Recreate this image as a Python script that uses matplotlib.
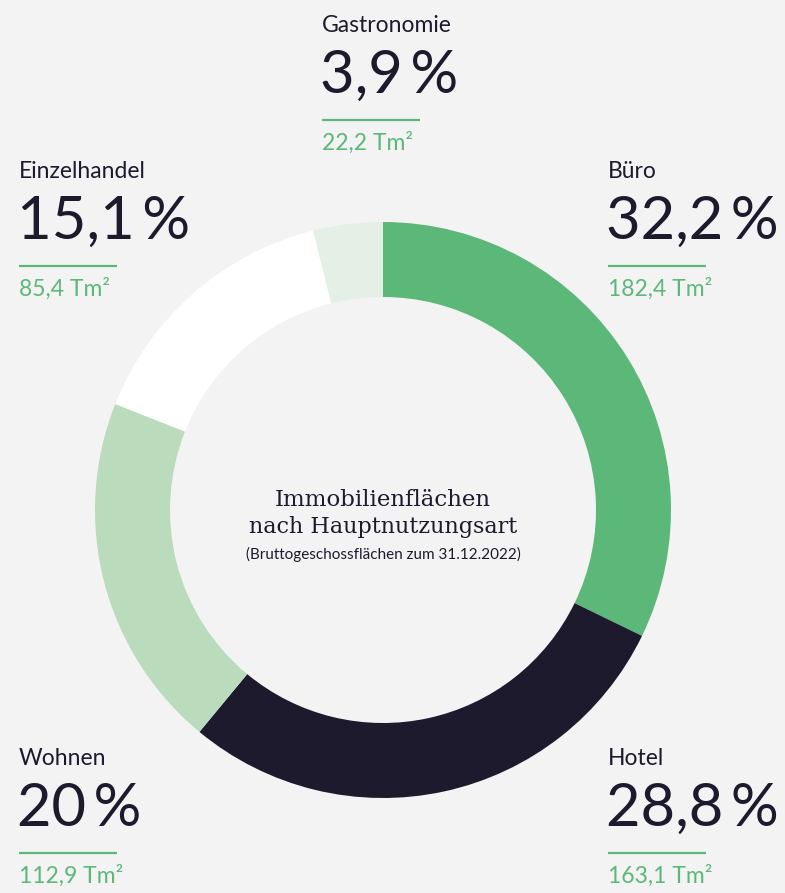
import matplotlib.pyplot as plt

# Immobilienflächen nach Hauptnutzungsart, Anteile im Uhrzeigersinn ab 12 Uhr
categories = ["Büro", "Hotel", "Wohnen", "Einzelhandel", "Gastronomie"]
shares = [32.2, 28.8, 20.0, 15.1, 3.9]
areas = [182.4, 163.1, 112.9, 85.4, 22.2]

colors = ["#5cb878", "#1d1a2e", "#badcbc", "#ffffff", "#e4efe6"]
DARK = "#1d1a2e"
GREEN = "#5cb878"
BG = "#f3f3f3"

W, H = 785, 893
# label block: left x, baseline of the category name (pixels from top)
label_pos = {
    "Büro": (608, 178),
    "Hotel": (608, 765),
    "Wohnen": (19, 765),
    "Einzelhandel": (19, 178),
    "Gastronomie": (322, 32),
}


def de_num(v, digits=1):
    s = f"{v:.{digits}f}".replace(".", ",")
    if s.endswith(",0"):
        s = s[:-2]
    return s


fig = plt.figure(figsize=(W / 100, H / 100), dpi=100, facecolor=BG)
ax = fig.add_axes([0, 0, 1, 1])
ax.set_facecolor(BG)

ax.pie(shares, colors=colors, startangle=90, counterclock=False,
       center=(383, H - 510), radius=288, frame=True,
       wedgeprops=dict(width=75, linewidth=0))
ax.set_xlim(0, W)
ax.set_ylim(0, H)
ax.axis("off")

sans = ["Lato", "DejaVu Sans"]
for cat, share, area in zip(categories, shares, areas):
    x, y = label_pos[cat]
    ax.text(x, H - y, cat, fontsize=16.5, color=DARK, family=sans, va="baseline")
    ax.text(x - 2, H - (y + 61), de_num(share) + "\u2009%", fontsize=43, color=DARK,
            family=sans, va="baseline")
    ax.plot([x, x + 98], [H - (y + 88)] * 2, color=GREEN, lw=1.6,
            solid_capstyle="butt")
    ax.text(x, H - (y + 118), de_num(area) + " Tm²", fontsize=16.5, color=GREEN,
            family=sans, va="baseline")

ax.text(383, H - 506, "Immobilienflächen", fontsize=16.5, color=DARK,
        family="DejaVu Serif", ha="center", va="baseline")
ax.text(383, H - 533, "nach Hauptnutzungsart", fontsize=16, color=DARK,
        family="DejaVu Serif", ha="center", va="baseline")
ax.text(383, H - 559, "(Bruttogeschossflächen zum 31.12.2022)", fontsize=11,
        color=DARK, family=sans, ha="center", va="baseline")

fig.savefig("out.png", dpi=100, facecolor=BG)
